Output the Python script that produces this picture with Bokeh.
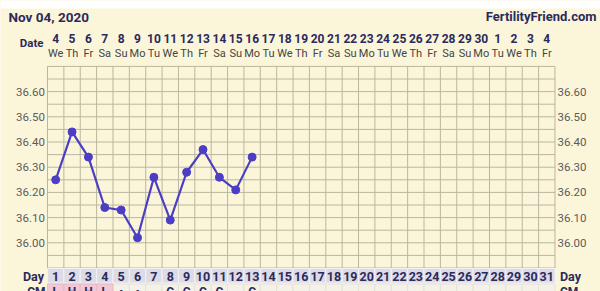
from bokeh.plotting import figure
from bokeh.models import Range1d, ColumnDataSource
from bokeh.embed import file_html
from bokeh.resources import INLINE
from bokeh.core.properties import value

# ---------------- data ----------------
title_date = "Nov 04, 2020"
site_name = "FertilityFriend.com"
cycle_days = list(range(1, 32))
date_labels = ["4", "5", "6", "7", "8", "9", "10", "11", "12", "13", "14", "15", "16",
               "17", "18", "19", "20", "21", "22", "23", "24", "25", "26", "27", "28",
               "29", "30", "1", "2", "3", "4"]
weekday_labels = ["We", "Th", "Fr", "Sa", "Su", "Mo", "Tu",
                  "We", "Th", "Fr", "Sa", "Su", "Mo", "Tu",
                  "We", "Th", "Fr", "Sa", "Su", "Mo", "Tu",
                  "We", "Th", "Fr", "Sa", "Su", "Mo", "Tu",
                  "We", "Th", "Fr"]
temp_days = list(range(1, 14))
temps = [36.25, 36.44, 36.34, 36.14, 36.13, 36.02, 36.26, 36.09, 36.28, 36.37,
         36.26, 36.21, 36.34]
temp_ticks = [36.00, 36.10, 36.20, 36.30, 36.40, 36.50, 36.60]
temp_tick_labels = ["36.00", "36.10", "36.20", "36.30", "36.40", "36.50", "36.60"]
cm_days = list(range(1, 14))
cm_labels = ["L", "H", "H", "L", "•", "•", "", "C", "C", "C", "C", "", "C"]
pink_days = [1, 2, 3, 4]
grid_y_min, grid_y_max, grid_step = 35.90, 36.70, 0.05

# ---------------- layout helpers ----------------
W, H = 600, 291
GL = 47.0          # grid left pixel
CW = 16.37         # column width pixel
Y00 = 242.3        # pixel of 36.00
SC = 252.0         # pixels per degree


def xp(px):
    return 0.5 + (px - GL) / CW


def yp(py):
    return 36.00 + (Y00 - py) / SC


NAVY = "#2b2a5c"
GRAY = "#5b5b5b"
CREAM = "#fbf6da"
GRIDC = "#bab6a0"
LINEC = "#4b3ec4"
FONT = value("Roboto")

p = figure(width=W, height=H, output_backend="svg", toolbar_location=None,
           x_range=Range1d(xp(0), xp(W)), y_range=Range1d(yp(H), yp(0)),
           min_border=0, x_axis_type=None, y_axis_type=None)
p.outline_line_color = None
p.grid.visible = False
p.background_fill_color = CREAM
p.border_fill_color = CREAM

# white strip on top
p.quad(left=xp(0), right=xp(W), top=yp(0), bottom=yp(8), fill_color="white",
       line_color=None)

# grid
n_h = int(round((grid_y_max - grid_y_min) / grid_step)) + 1
hy = [grid_y_min + i * grid_step for i in range(n_h)]
p.segment(x0=[0.5] * n_h, x1=[31.5] * n_h, y0=hy, y1=hy, line_color=GRIDC, line_width=1)
vx = [d - 0.5 for d in cycle_days] + [31.5]
p.segment(x0=vx, x1=vx, y0=[grid_y_min] * len(vx), y1=[grid_y_max] * len(vx),
          line_color=GRIDC, line_width=1)

# header texts
p.text(x=[xp(8)], y=[yp(16)], text=[title_date], text_font=FONT, text_font_style="bold",
       text_font_size="13.5px", text_color=NAVY, text_baseline="middle", text_align="left")
p.text(x=[xp(596)], y=[yp(16)], text=[site_name], text_font=FONT, text_font_style="bold",
       text_font_size="13px", text_color=NAVY, text_baseline="middle", text_align="right")
p.text(x=[xp(43)], y=[yp(42)], text=["Date"], text_font=FONT, text_font_style="bold",
       text_font_size="11.5px", text_color=NAVY, text_baseline="middle", text_align="right")
src = ColumnDataSource(dict(x=cycle_days, d=date_labels, w=weekday_labels,
                            n=[str(d) for d in cycle_days]))
p.text(x="x", y=yp(37.5), text="d", source=src, text_font=FONT, text_font_style="bold",
       text_font_size="12px", text_color=NAVY, text_baseline="middle", text_align="center")
p.text(x="x", y=yp(53), text="w", source=src, text_font=FONT,
       text_font_size="11px", text_color="#444444", text_baseline="middle", text_align="center")

# temperature tick labels
tsrc = ColumnDataSource(dict(y=temp_ticks, t=temp_tick_labels))
p.text(x=xp(44.5), y="y", text="t", source=tsrc, text_font=FONT, text_font_size="11.5px",
       text_color=GRAY, text_baseline="middle", text_align="right")
p.text(x=xp(557), y="y", text="t", source=tsrc, text_font=FONT, text_font_size="11.5px",
       text_color=GRAY, text_baseline="middle", text_align="left")

# day row
row_top, row_bot = yp(268), yp(282.5)
p.quad(left=[d - 0.5 for d in cycle_days], right=[d + 0.5 for d in cycle_days],
       top=row_top, bottom=row_bot, fill_color="#dddbe6", line_color="#f3f1f2", line_width=1)
p.text(x="x", y=yp(275.5), text="n", source=src, text_font=FONT, text_font_style="bold",
       text_font_size="12.5px", text_color=NAVY, text_baseline="middle", text_align="center")
p.text(x=[xp(43.5)], y=[yp(275.5)], text=["Day"], text_font=FONT,
       text_font_style="bold", text_font_size="12.5px", text_color=NAVY,
       text_baseline="middle", text_align="right")
p.text(x=[xp(559.5)], y=[yp(275.5)], text=["Day"], text_font=FONT,
       text_font_style="bold", text_font_size="12.5px", text_color=NAVY,
       text_baseline="middle", text_align="left")
# CM row
cm_top, cm_bot = yp(283.5), yp(300)
p.quad(left=[d - 0.5 for d in cycle_days], right=[d + 0.5 for d in cycle_days],
       top=cm_top, bottom=cm_bot, fill_color="#f4f1e8", line_color="#e6e2d6", line_width=1)
p.quad(left=[d - 0.5 for d in pink_days], right=[d + 0.5 for d in pink_days],
       top=cm_top, bottom=cm_bot, fill_color="#f3c8d6", line_color="#eab8c8", line_width=1)
p.text(x=cm_days, y=[yp(291.5)] * len(cm_days), text=cm_labels, text_font=FONT,
       text_font_style="bold", text_font_size="12px", text_color=NAVY,
       text_baseline="middle", text_align="center")
p.text(x=[xp(45)], y=[yp(291.5)], text=["CM"], text_font=FONT,
       text_font_style="bold", text_font_size="12px", text_color=NAVY, text_baseline="middle",
       text_align="right")
p.text(x=[xp(559.5)], y=[yp(291.5)], text=["CM"], text_font=FONT,
       text_font_style="bold", text_font_size="12px", text_color=NAVY, text_baseline="middle",
       text_align="left")

# temperature line
p.line(x=temp_days, y=temps, line_color=LINEC, line_width=2.2)
p.scatter(x=temp_days, y=temps, size=8, fill_color=LINEC, line_color=LINEC)

open("out.html", "w").write(file_html(p, INLINE))
